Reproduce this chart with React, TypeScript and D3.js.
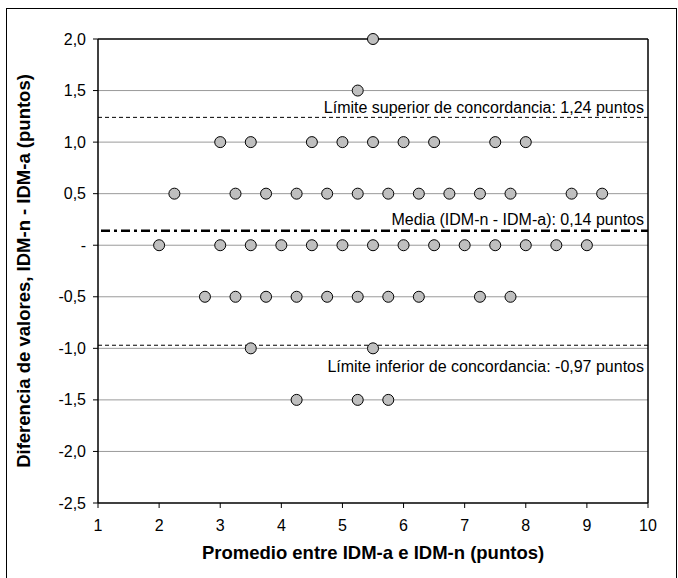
import React from "react";
import * as d3 from "d3";

// Bland-Altman: diferencias vs promedio
const rows: number[] = [2.0, 1.5, 1.0, 0.5, 0, -0.5, -1.0, -1.5];
const rowX: number[][] = [
  [5.5],
  [5.25],
  [3, 3.5, 4.5, 5, 5.5, 6, 6.5, 7.5, 8],
  [2.25, 3.25, 3.75, 4.25, 4.75, 5.25, 5.75, 6.25, 6.75, 7.25, 7.75, 8.75, 9.25],
  [2, 3, 3.5, 4, 4.5, 5, 5.5, 6, 6.5, 7, 7.5, 8, 8.5, 9],
  [2.75, 3.25, 3.75, 4.25, 4.75, 5.25, 5.75, 6.25, 7.25, 7.75],
  [3.5, 5.5],
  [4.25, 5.25, 5.75],
];
const xTicks = [1, 2, 3, 4, 5, 6, 7, 8, 9, 10];
const yTicks = [2.0, 1.5, 1.0, 0.5, 0, -0.5, -1.0, -1.5, -2.0, -2.5];
const yTickLabels = ["2,0", "1,5", "1,0", "0,5", "-", "-0,5", "-1,0", "-1,5", "-2,0", "-2,5"];
const upperLimit = 1.24;
const meanDiff = 0.14;
const lowerLimit = -0.97;

const font = "'Liberation Sans', Arial, sans-serif";

export default function App() {
  const W = 678, H = 578;
  const left = 98, right = 648, top = 39, bottom = 503;
  const x = d3.scaleLinear().domain([1, 10]).range([left, right]);
  const y = d3.scaleLinear().domain([-2.5, 2.0]).range([bottom, top]);

  const points = rows.flatMap((v, i) => rowX[i].map(px => ({ x: px, y: v })));

  return (
    <svg width={W} height={H} style={{ position: "absolute", left: 0, top: 0 }} fontFamily={font}>
      <rect x={0} y={0} width={W} height={H} fill="#fff" />
      <rect x={6.5} y={8.5} width={670} height={600} fill="none" stroke="#000" strokeWidth={1} />

      {/* grid */}
      {yTicks.filter(t => t < 2 && t > -2.5).map(t => (
        <line key={"g" + t} x1={left} x2={right} y1={y(t)} y2={y(t)} stroke="#9a9a9a" strokeWidth={1} />
      ))}

      {/* reference lines */}
      <line x1={left} x2={right} y1={y(upperLimit)} y2={y(upperLimit)} stroke="#000" strokeWidth={1} strokeDasharray="4,3" />
      <line x1={left} x2={right} y1={y(lowerLimit)} y2={y(lowerLimit)} stroke="#000" strokeWidth={1} strokeDasharray="4,3" />
      <line x1={left + 3} x2={right} y1={y(meanDiff)} y2={y(meanDiff)} stroke="#000" strokeWidth={2.5} strokeDasharray="9,4,3,4" />

      {/* plot border */}
      <line x1={left} x2={right} y1={top} y2={top} stroke="#000" strokeWidth={1.5} />
      <line x1={right} x2={right} y1={top} y2={bottom} stroke="#000" strokeWidth={1.5} />
      <line x1={left} x2={left} y1={top} y2={bottom} stroke="#000" strokeWidth={1.5} />
      <line x1={left} x2={right} y1={bottom} y2={bottom} stroke="#000" strokeWidth={1.5} />

      {/* y ticks */}
      {yTicks.map((t, i) => (
        <g key={"y" + t}>
          <line x1={left - 5} x2={left} y1={y(t)} y2={y(t)} stroke="#000" />
          <text x={left - 12} y={y(t)} dy="0.35em" textAnchor="end" fontSize={16}>{yTickLabels[i]}</text>
        </g>
      ))}

      {/* x ticks */}
      {xTicks.map(t => (
        <g key={"x" + t}>
          <line x1={x(t)} x2={x(t)} y1={bottom} y2={bottom + 5} stroke="#000" />
          <text x={x(t)} y={bottom + 28} textAnchor="middle" fontSize={16}>{t}</text>
        </g>
      ))}

      {/* points */}
      {points.map((p, i) => (
        <circle key={i} cx={x(p.x)} cy={y(p.y)} r={5.5} fill="#bfbfbf" stroke="#000" strokeWidth={1} />
      ))}

      {/* annotations */}
      <text x={right - 4} y={y(upperLimit) - 4} textAnchor="end" fontSize={16}>Límite superior de concordancia: 1,24 puntos</text>
      <text x={right - 4} y={y(meanDiff) - 6} textAnchor="end" fontSize={16}>Media (IDM-n - IDM-a): 0,14 puntos</text>
      <text x={right - 4} y={y(lowerLimit) + 27} textAnchor="end" fontSize={16}>Límite inferior de concordancia: -0,97 puntos</text>

      {/* axis titles */}
      <text x={(left + right) / 2} y={559} textAnchor="middle" fontSize={18.5} fontWeight="bold">Promedio entre IDM-a e IDM-n (puntos)</text>
      <text transform={`translate(30,${(top + bottom) / 2}) rotate(-90)`} textAnchor="middle" fontSize={18.5} fontWeight="bold">Diferencia de valores, IDM-n - IDM-a (puntos)</text>
    </svg>
  );
}
